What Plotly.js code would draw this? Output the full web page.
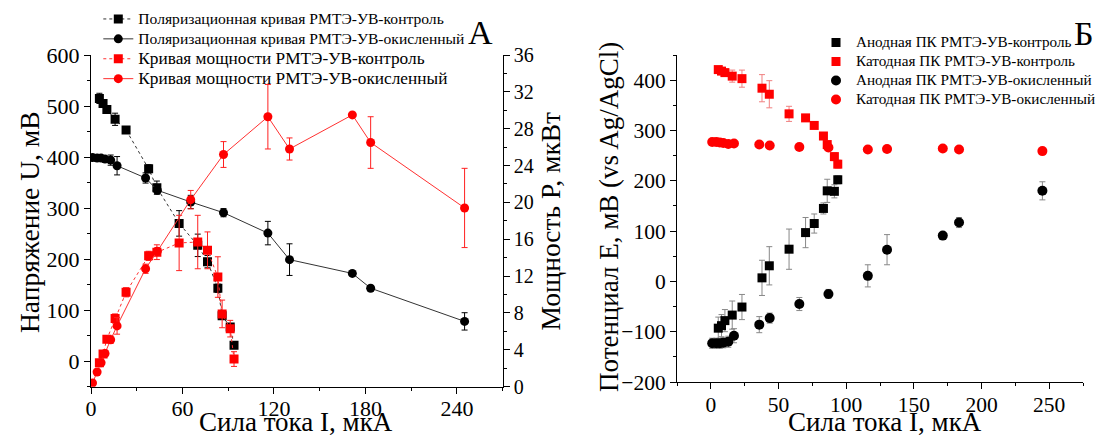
<!DOCTYPE html>
<html>
<head>
<meta charset="utf-8">
<script src="https://cdn.plot.ly/plotly-3.0.1.min.js"></script>
<style>html,body{margin:0;padding:0;background:#fff;overflow:hidden;}#chart{width:1102px;height:439px;}</style>
</head>
<body>
<div id="chart"></div>
<script>
// ---- Panel A data ----
const I_ctrl = [5.5, 7.9, 10.4, 15.8, 23, 37.8, 43.2, 57.8, 70, 76.4, 83.2, 86, 91.3, 93.8];
const U_ctrl = [515, 505, 493, 474, 453, 377, 340, 270, 227, 195, 143, 89, 67, 31];
const U_ctrl_err = [10, 6, 5, 12, 5, 8, 13, 25, 22, 12, 8, 0, 5, 5];
const P_ctrl = [2.6, 3.55, 5.15, 7.4, 10.25, 14.2, 14.6, 15.6, 15.7, 14.8, 11.9, 7.9, 6.3, 3.0];
const P_ctrl_err = [0.3, 0.3, 0.3, 0.5, 0.5, 0.5, 0.8, 3.0, 2.9, 2.0, 2.2, 1.5, 0.9, 0.8];

const I_ox = [1, 4, 6.6, 9.2, 12.9, 17.1, 35.8, 43.5, 65.4, 86.9, 116, 130.2, 171.4, 183.4, 245];
const U_ox = [399, 398, 398, 396, 394, 383, 359, 335, 312, 291, 251, 199, 172, 143, 78];
const U_ox_err = [3, 3, 3, 4, 10, 18, 10, 6, 13, 8, 23, 31, 3, 5, 17];
const P_ox = [0.4, 1.6, 2.6, 3.6, 5.1, 6.6, 12.8, 14.7, 20.3, 25.2, 29.3, 25.8, 29.5, 26.5, 19.4];
const P_ox_err = [0.2, 0.2, 0.2, 0.3, 0.4, 0.9, 0.5, 0.4, 1.0, 1.4, 3.5, 1.2, 0, 2.8, 4.3];

// ---- Panel Б data ----
const E_an_ctrl = [-93, -88, -78, -67, -51, 7, 31, 64, 97, 115, 145, 180, 179, 202];
const E_an_ctrl_err = [22, 22, 22, 28, 25, 35, 38, 40, 30, 19, 11, 23, 13, 8];
const E_cat_ctrl = [421, 418, 415, 408, 403, 384, 372, 333, 325, 310, 289, 272, 248, 233];
const E_cat_ctrl_err = [5, 5, 5, 12, 17, 27, 27, 15, 5, 5, 5, 5, 8, 8];
const E_an_ox = [-123, -123, -123, -122, -120, -108, -86, -73, -45, -25, 11, 63, 91, 117, 180];
const E_an_ox_err = [10, 10, 10, 10, 11, 14, 16, 10, 13, 9, 22, 30, 0, 10, 18];
const E_cat_ox = [277, 277, 276, 275, 273, 274, 272, 270, 267, 266, 262, 263, 264, 262, 259];

const names = [
  'Поляризационная кривая РМТЭ-УВ-контроль',
  'Поляризационная кривая РМТЭ-УВ-окисленный',
  'Кривая мощности РМТЭ-УВ-контроль',
  'Кривая мощности РМТЭ-УВ-окисленный',
  'Анодная ПК РМТЭ-УВ-контроль',
  'Катодная ПК РМТЭ-УВ-контроль',
  'Анодная ПК РМТЭ-УВ-окисленный',
  'Катодная ПК РМТЭ-УВ-окисленный'
];
const sz = (t, s) => '<span style="font-size:' + s + 'px">' + t + '</span>';

function eb(arr, color){ return {type:'data', array:arr, visible:true, color:color, thickness:1, width:3}; }

const traces = [
  {x:I_ctrl, y:U_ctrl, name:sz(names[0],15.6), mode:'lines+markers', xaxis:'x', yaxis:'y', legend:'legend',
   line:{color:'#333', width:1, dash:'dot'}, marker:{symbol:'square', size:9, color:'#000'}, error_y:eb(U_ctrl_err,'#000')},
  {x:I_ox, y:U_ox, name:sz(names[1],15.6), mode:'lines+markers', xaxis:'x', yaxis:'y', legend:'legend',
   line:{color:'#333', width:1}, marker:{symbol:'circle', size:9, color:'#000'}, error_y:eb(U_ox_err,'#000')},
  {x:I_ctrl, y:P_ctrl, name:sz(names[2],17.3), mode:'lines+markers', xaxis:'x', yaxis:'y2', legend:'legend',
   line:{color:'#ff3030', width:1, dash:'dot'}, marker:{symbol:'square', size:9, color:'#ff0000'}, error_y:eb(P_ctrl_err,'#ff2020')},
  {x:I_ox, y:P_ox, name:sz(names[3],17.3), mode:'lines+markers', xaxis:'x', yaxis:'y2', legend:'legend',
   line:{color:'#ff3030', width:1}, marker:{symbol:'circle', size:9, color:'#ff0000'}, error_y:eb(P_ox_err,'#ff2020')},
  {x:I_ctrl, y:E_an_ctrl, name:sz(names[4],15.2), mode:'markers', xaxis:'x2', yaxis:'y3', legend:'legend2',
   marker:{symbol:'square', size:9, color:'#000'}, error_y:eb(E_an_ctrl_err,'#888')},
  {x:I_ctrl, y:E_cat_ctrl, name:sz(names[5],15.2), mode:'markers', xaxis:'x2', yaxis:'y3', legend:'legend2',
   marker:{symbol:'square', size:9, color:'#ff0000'}, error_y:eb(E_cat_ctrl_err,'#f08080')},
  {x:I_ox, y:E_an_ox, name:sz(names[6],15.2), mode:'markers', xaxis:'x2', yaxis:'y3', legend:'legend2',
   marker:{symbol:'circle', size:10, color:'#000'}, error_y:eb(E_an_ox_err,'#888')},
  {x:I_ox, y:E_cat_ox, name:sz(names[7],15.2), mode:'markers', xaxis:'x2', yaxis:'y3', legend:'legend2',
   marker:{symbol:'circle', size:10, color:'#ff0000'}}
];

const W = 1102, H = 439;
const px = v => v / W, py = v => 1 - v / H;
const FONT = 'Liberation Serif, Times New Roman, serif';

function ax(extra){
  return Object.assign({
    showline:true, linecolor:'#000', linewidth:1, showgrid:false, zeroline:false,
    ticks:'outside', ticklen:6, tickcolor:'#000', tickwidth:1,
    tickfont:{size:22, family:FONT, color:'#000'}, fixedrange:true
  }, extra);
}
function ann(text, x, y, size, angle, yanchor){
  return {text:text, x:px(x), y:py(y), xref:'paper', yref:'paper', xanchor:'center', yanchor:yanchor||'middle',
          showarrow:false, textangle:angle||0, font:{size:size, family:FONT, color:'#000'}};
}
const minor = d => ({dtick:d, ticks:'outside', ticklen:3, tickcolor:'#000'});

const layout = {
  width:W, height:H, margin:{l:0, r:0, t:0, b:0},
  paper_bgcolor:'#fff', plot_bgcolor:'rgba(0,0,0,0)',
  font:{family:FONT, color:'#000'},
  showlegend:true,
  xaxis: ax({domain:[px(91), px(502.7)], range:[0,270], anchor:'y', tick0:0, dtick:60, minor:minor(30),
             ticklabelstandoff:-4}),
  yaxis: ax({domain:[1-386.7/H, 1-55/H], range:[-50,600], anchor:'x', tick0:0, dtick:100, minor:minor(50)}),
  yaxis2: ax({overlaying:'y', side:'right', anchor:'x', range:[0,36], tick0:0, dtick:4, minor:minor(2),
             tickfont:{size:20, family:FONT, color:'#000'}}),
  xaxis2: ax({domain:[px(677), px(1083)], range:[-25,275], anchor:'y3', tick0:0, dtick:50, minor:minor(25),
             tickfont:{size:21.5, family:FONT, color:'#000'}, ticklabelstandoff:-3}),
  yaxis3: ax({domain:[1-382/H, 1-55/H], range:[-200,450], anchor:'x2', tick0:0, dtick:100, minor:minor(50),
             tickfont:{size:21.5, family:FONT, color:'#000'}}),
  legend: {x:px(98.3), y:py(4), xanchor:'left', yanchor:'top', bgcolor:'rgba(0,0,0,0)',
           font:{size:13, family:FONT, color:'#000'}, tracegroupgap:0, itemwidth:30},
  legend2: {x:px(816), y:py(28), xanchor:'left', yanchor:'top', bgcolor:'rgba(0,0,0,0)',
           font:{size:12, family:FONT, color:'#000'}, tracegroupgap:0, itemwidth:30},
  annotations: [
    ann('А', 480, 32, 34),
    ann('Б', 1084, 33, 34),
    ann('Напряжение U, мВ', 29, 222, 27.5, -90),
    ann('Мощность P, мкВт', 550, 221.5, 27.5, -90),
    ann('Сила тока I, мкА', 296, 439, 27, 0, 'bottom'),
    ann('Сила тока I, мкА', 885, 439, 27, 0, 'bottom'),
    ann('Потенциал E, мВ (vs Ag/AgCl)', 609, 217, 27, -90)
  ]
};

Plotly.newPlot('chart', traces, layout, {displayModeBar:false, staticPlot:true});
</script>
</body>
</html>
